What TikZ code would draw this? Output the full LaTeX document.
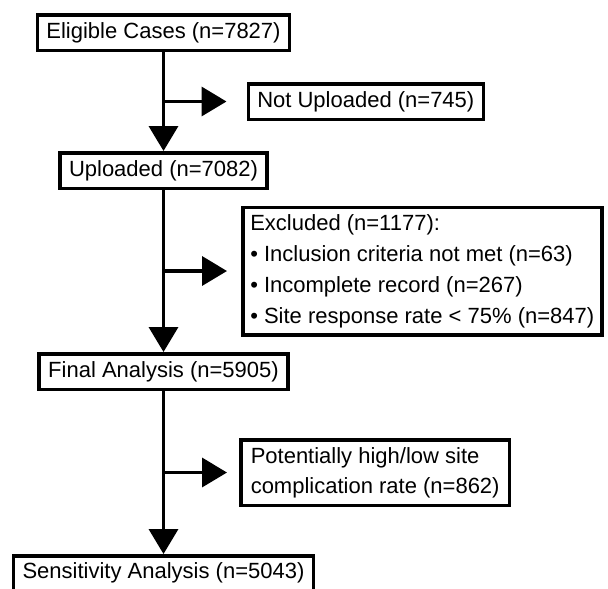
\documentclass[tikz,border=0pt]{standalone}
\usepackage{fontspec}
\setmainfont{Liberation Sans}
\usepackage{tikz}
\usetikzlibrary{arrows.meta, positioning}

\begin{document}
\begin{tikzpicture}[
  node distance = 162pt and 80pt,
  box/.style     = {rectangle, draw, line width=3.5pt, inner xsep=9pt,
                    minimum height=35.5pt, align=center,
                    font=\fontsize{22}{31}\selectfont},
  sidebox/.style = {box, align=left, inner ysep=6pt},
  arr/.style     = {-{Triangle[length=25pt, width=29pt]}, line width=3.5pt}
]
\useasboundingbox (0,0) rectangle (608pt,-589pt);

\node[box] (elig) at (163.5pt,-32.5pt) {Eligible Cases (n=7827)};
\node[box, below=99pt of elig] (upl) {Uploaded (n=7082)};
\node[box, below=of upl] (final) {Final Analysis (n=5905)};
\node[box, below=163pt of final, minimum height=34.5pt] (sens) {Sensitivity Analysis (n=5043)};

% branch points halfway between the boxes
\path (elig) -- coordinate[midway] (b1) (upl);
\path (upl) -- coordinate[midway] (b2) (final);
\path (final) -- coordinate[midway] (b3) (sens);

\node[box, right=83pt of b1] (notup) {Not Uploaded (n=745)};
\node[sidebox, right=77.5pt of b2, minimum height=127.5pt, inner xsep=7.5pt] (excl)
  {Excluded (n=1177):\\• Inclusion criteria not met (n=63)\\• Incomplete record (n=267)\\• Site response rate < 75\% (n=847)};
\node[sidebox, right=75.5pt of b3, minimum height=65.5pt, inner xsep=10pt,
      font=\fontsize{22}{30}\selectfont] (pot)
  {Potentially high/low site\\complication rate (n=862)};

% main flow
\draw[arr] (elig) -- (upl);
\draw[arr] (upl) -- (final);
\draw[arr] (final) -- (sens);

% removed cases
\draw[arr, shorten >=20pt] (b1) -- (notup);
\draw[arr, shorten >=14pt] (b2) -- (excl);
\draw[arr, shorten >=12pt] (b3) -- (pot);

\end{tikzpicture}
\end{document}
